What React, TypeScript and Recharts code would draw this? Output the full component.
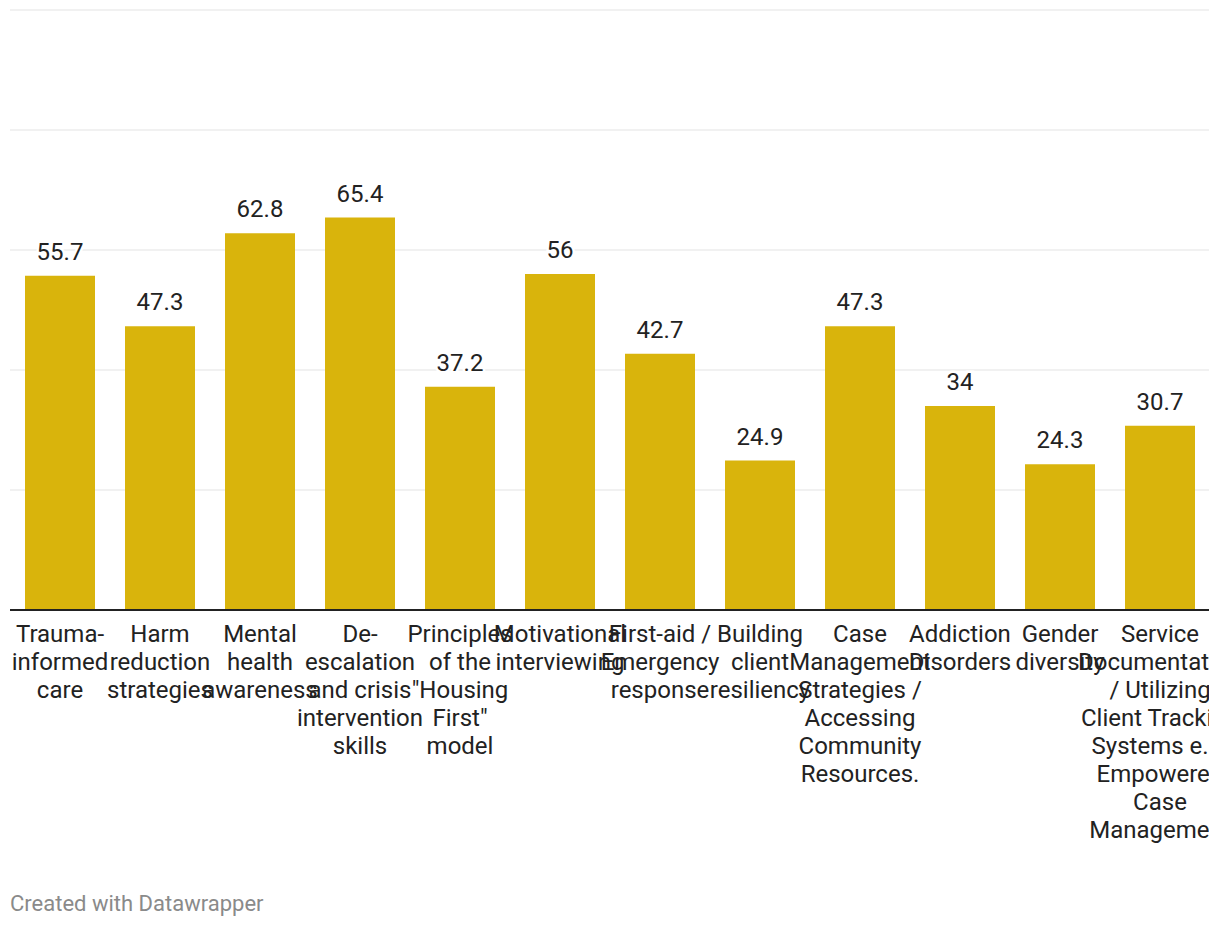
import React from 'react';
import { BarChart, Bar, XAxis, YAxis, CartesianGrid, LabelList } from 'recharts';

const categories = [
  'Trauma-informed care',
  'Harm reduction strategies',
  'Mental health awareness',
  'De-escalation and crisis intervention skills',
  'Principles of the "Housing First" model',
  'Motivational interviewing',
  'First-aid / Emergency response',
  'Building client resiliency',
  'Case Management Strategies / Accessing Community Resources.',
  'Addiction Disorders',
  'Gender diversity',
  'Service Documentation / Utilizing Client Tracking Systems e.g. Empowered Case Management',
];

const values = [55.7, 47.3, 62.8, 65.4, 37.2, 56, 42.7, 24.9, 47.3, 34, 24.3, 30.7];

const tickLabelLines: string[][] = [
  ['Trauma-', 'informed', 'care'],
  ['Harm', 'reduction', 'strategies'],
  ['Mental', 'health', 'awareness'],
  ['De-', 'escalation', 'and crisis', 'intervention', 'skills'],
  ['Principles', 'of the', '"Housing', 'First"', 'model'],
  ['Motivational', 'interviewing'],
  ['First-aid /', 'Emergency', 'response'],
  ['Building', 'client', 'resiliency'],
  ['Case', 'Management', 'Strategies /', 'Accessing', 'Community', 'Resources.'],
  ['Addiction', 'Disorders'],
  ['Gender', 'diversity'],
  ['Service', 'Documentation', '/ Utilizing', 'Client Tracking', 'Systems e.g.', 'Empowered', 'Case', 'Management'],
];

const yTicks = [0, 20, 40, 60, 80, 100];

const data = categories.map((name, i) => ({ name, value: values[i], idx: i }));

const FONT = 'Roboto, sans-serif';
const TEXT = '#222222';

const CategoryTick = (props: any) => {
  const { x, y, payload } = props;
  const lines = tickLabelLines[payload.index] || [payload.value];
  return (
    <text x={x} y={y + 32} textAnchor="middle" fontFamily={FONT} fontSize={24} fill={TEXT}>
      {lines.map((l, i) => (
        <tspan key={i} x={x} dy={i === 0 ? 0 : 28}>
          {l}
        </tspan>
      ))}
    </text>
  );
};

const ValueLabel = (props: any) => {
  const { x, y, width, value } = props;
  return (
    <text
      x={x + width / 2}
      y={y - 16}
      textAnchor="middle"
      fontFamily={FONT}
      fontSize={24}
      fill={TEXT}
      stroke="#ffffff"
      strokeWidth={5}
      paintOrder="stroke"
    >
      {value}
    </text>
  );
};

export default function App() {
  return (
    <div style={{ position: 'absolute', left: 0, top: 0, width: 1220, height: 926, background: '#ffffff', fontFamily: FONT }}>
      <div style={{ position: 'absolute', left: 0, top: 0, width: 1209, height: 926, overflow: 'hidden' }}>
        <BarChart
          width={1220}
          height={926}
          data={data}
          margin={{ top: 10, right: 10, left: 10, bottom: 66 }}
          barCategoryGap="15%"
        >
          <CartesianGrid vertical={false} stroke="#e3e3e3" strokeWidth={1} />
          <YAxis hide domain={[0, 100]} ticks={yTicks} />
          <XAxis
            dataKey="name"
            height={250}
            interval={0}
            tickLine={false}
            tickSize={0}
            tickMargin={0}
            axisLine={{ stroke: '#222222', strokeWidth: 2 }}
            tick={<CategoryTick />}
          />
          <Bar dataKey="value" fill="#d9b40c" isAnimationActive={false}>
            <LabelList dataKey="value" content={<ValueLabel />} />
          </Bar>
        </BarChart>
      </div>
      <svg style={{ position: 'absolute', left: 0, top: 870 }} width={1220} height={56}>
        <text x={10} y={41} fontFamily={FONT} fontSize={22} fill="#8a8a8a">
          Created with Datawrapper
        </text>
      </svg>
    </div>
  );
}
